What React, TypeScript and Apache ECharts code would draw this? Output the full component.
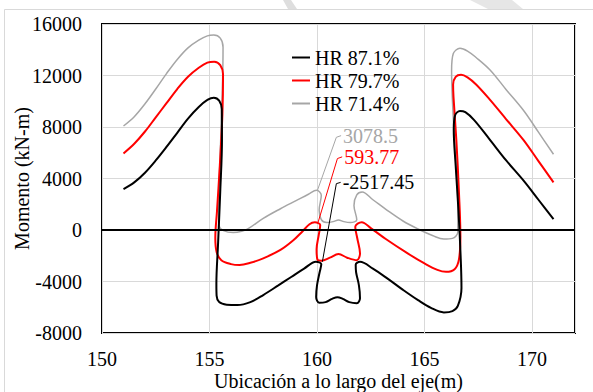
import React, { useEffect, useRef } from 'react';
import * as echarts from 'echarts';

const SERIES_NAMES = ['HR 87.1%', 'HR 79.7%', 'HR 71.4%'];
const SERIES_COLORS = ['#000000', '#ff0000', '#a6a6a6'];

const HR871: [number, number][] = [
  [151.0, 3180], [151.5, 3700], [152.0, 4450], [152.5, 5400], [153.0, 6450], [153.5, 7550],
  [154.0, 8650], [154.5, 9550], [154.9, 10100], [155.2, 10280], [155.45, 10050], [155.57, 9400],
  [155.58, 7000], [155.5, 3000], [155.4, -1000], [155.32, -4200], [155.33, -5100], [155.45, -5600],
  [155.8, -5800], [156.3, -5830], [156.9, -5600], [157.5, -5050], [158.2, -4300], [158.8, -3650],
  [159.4, -3000], [159.95, -2470], [160.2, -2650], [160.12, -3300], [160.0, -4300], [159.96, -5200],
  [160.1, -5650], [160.4, -5600], [160.7, -5350], [160.95, -5220], [161.2, -5350], [161.5, -5600],
  [161.85, -5680], [162.0, -5300], [161.95, -4300], [161.82, -3300], [161.8, -2700], [162.0, -2470],
  [162.6, -3000], [163.3, -3800], [164.0, -4650], [164.7, -5450], [165.3, -6050], [165.9, -6400],
  [166.3, -6300], [166.55, -5900], [166.72, -4500], [166.68, -2000], [166.58, 1500], [166.45, 5000],
  [166.36, 7800], [166.42, 8900], [166.65, 9250], [166.9, 9150], [167.3, 8550], [168.0, 7100],
  [168.8, 5400], [169.6, 3850], [170.3, 2350], [171.0, 850],
];

const HR797: [number, number][] = [
  [151.0, 5950], [151.5, 6700], [152.0, 7650], [152.5, 8750], [153.0, 9850], [153.5, 10950],
  [154.0, 11900], [154.5, 12600], [154.9, 13000], [155.22, 13070], [155.5, 12800], [155.63, 12100],
  [155.6, 9000], [155.48, 5000], [155.35, 1500], [155.27, -600], [155.33, -1700], [155.55, -2350],
  [156.0, -2650], [156.4, -2720], [156.9, -2550], [157.5, -2200], [158.3, -1550], [158.9, -800],
  [159.3, -150], [159.65, 450], [159.9, 594], [160.15, 380], [160.08, -400], [159.98, -1500],
  [160.02, -2300], [160.2, -2380], [160.6, -2150], [161.0, -1870], [161.4, -2150], [161.85, -2350],
  [162.0, -1800], [161.88, -700], [161.78, 250], [162.08, 600], [162.5, 150], [163.2, -700],
  [164.2, -1800], [165.0, -2600], [165.6, -3100], [166.0, -3250], [166.4, -3050], [166.6, -2300],
  [166.67, -500], [166.6, 3000], [166.48, 7000], [166.35, 10300], [166.33, 11300], [166.45, 11900],
  [166.7, 12050], [167.0, 11850], [167.4, 11300], [168.0, 10200], [168.8, 8600], [169.6, 7000],
  [170.3, 5350], [171.0, 3700],
];

const HR714: [number, number][] = [
  [151.0, 8080], [151.5, 8800], [152.0, 9800], [152.5, 10950], [153.0, 12150], [153.5, 13250],
  [154.0, 14150], [154.5, 14750], [154.9, 15080], [155.2, 15140], [155.5, 14900], [155.63, 14200],
  [155.6, 11000], [155.5, 6000], [155.42, 1500], [155.45, 300], [155.65, -50], [156.1, -200],
  [156.5, -100], [156.8, 100], [157.5, 900], [158.3, 1650], [159.05, 2300], [159.6, 2780],
  [159.98, 3078], [160.2, 2700], [160.1, 1550], [160.2, 800], [160.45, 580], [160.75, 650],
  [161.0, 780], [161.25, 650], [161.55, 580], [161.85, 800], [161.72, 1900], [161.85, 2720],
  [162.1, 2950], [162.6, 2350], [163.25, 1550], [164.0, 700], [164.7, 80], [165.4, -450],
  [165.9, -700], [166.3, -650], [166.55, -150], [166.55, 2000], [166.43, 6000], [166.3, 10000],
  [166.26, 12400], [166.34, 13700], [166.65, 14110], [167.0, 13900], [167.4, 13400], [168.05, 12430],
  [168.8, 10900], [169.6, 9300], [170.3, 7600], [171.0, 5880],
];

const CALLOUT_TEXTS = ['3078.5', '593.77', '-2517.45'];
const CALLOUT_COLORS = ['#a6a6a6', '#ff0000', '#000000'];
const CALLOUT_LINES: [number, number][][] = [
  [[160.02, 3078], [160.9, 7200], [161.12, 7330]],
  [[160.05, 594], [160.95, 5550], [161.17, 5680]],
  [[160.25, -2470], [160.9, 3600], [161.1, 3700]],
];

const X_TICKS = { min: 150, max: 172, interval: 5 };
const Y_TICKS = { min: -8000, max: 16000, interval: 4000 };

const FONT = 'Liberation Serif';

export default function App() {
  const ref = useRef<HTMLDivElement>(null);
  useEffect(() => {
    const chart = echarts.init(ref.current!, null, { renderer: 'svg' });
    const mainData = [HR871, HR797, HR714];
    const mainSeries: any[] = mainData.map((d, i) => ({
      name: SERIES_NAMES[i],
      type: 'line',
      data: d,
      smooth: 0.35,
      symbol: 'none',
      z: 5 - i,
      lineStyle: { color: SERIES_COLORS[i], width: i === 2 ? 1.5 : 2 },
      itemStyle: { color: SERIES_COLORS[i] },
      ...(i === 0
        ? {
            markLine: {
              silent: true,
              symbol: ['none', 'none'],
              label: { show: false },
              lineStyle: { color: '#000', width: 2, type: 'solid' },
              data: [{ yAxis: 0 }],
            },
          }
        : {}),
    }));
    const calloutSeries: any[] = CALLOUT_LINES.map((d, i) => ({
      name: 'callout' + i,
      type: 'line',
      data: d,
      symbol: 'none',
      silent: true,
      z: 6,
      lineStyle: { color: CALLOUT_COLORS[i], width: 1 },
      endLabel: {
        show: true,
        formatter: () => '{t|' + CALLOUT_TEXTS[i] + '}',
        distance: 2,
        rich: { t: { color: CALLOUT_COLORS[i], fontSize: 20, fontFamily: FONT } },
      },
    }));
    const tickRich = { t: { fontSize: 20, fontFamily: FONT, color: '#000' } };
    chart.setOption({
      animation: false,
      backgroundColor: '#fff',
      textStyle: { fontFamily: FONT },
      graphic: [
        {
          type: 'rect',
          shape: { x: 4.5, y: 9.5, width: 620, height: 420 },
          style: { fill: 'none', stroke: '#d9d9d9', lineWidth: 1 },
          silent: true,
        },
        {
          type: 'polygon',
          shape: { points: [[283, 0], [291, 0], [297, 9], [288, 9]] },
          style: { fill: '#dedede' },
          silent: true,
        },
        {
          type: 'polygon',
          shape: { points: [[470, 0], [512, 0], [523, 9], [488, 9]] },
          style: { fill: '#e6e6e6' },
          silent: true,
        },
      ],
      grid: {
        left: 102,
        right: 18,
        top: 24,
        bottom: 59,
        containLabel: false,
        outerBoundsMode: 'none',
        show: true,
        borderColor: '#000',
        borderWidth: 2,
        backgroundColor: 'transparent',
      },
      legend: {
        orient: 'vertical',
        left: 287,
        top: 41,
        itemWidth: 18,
        itemHeight: 2,
        itemGap: 0,
        icon: 'rect',
        data: SERIES_NAMES,
        textStyle: { fontSize: 20, fontFamily: FONT, color: '#000', lineHeight: 23 },
      },
      xAxis: {
        type: 'value',
        min: X_TICKS.min,
        max: X_TICKS.max,
        interval: X_TICKS.interval,
        name: 'Ubicación a lo largo del eje(m)',
        nameLocation: 'middle',
        nameGap: 38,
        nameMoveOverlap: false,
        nameTextStyle: { fontSize: 20, fontFamily: FONT, color: '#000', lineHeight: 20 },
        axisLine: { show: false, onZero: false },
        axisTick: { show: false },
        axisLabel: {
          margin: 16,
          showMaxLabel: false,
          fontFamily: FONT,
          fontSize: 20,
          color: '#000',
          formatter: (v: number) => '{t|' + String(v) + '}',
          rich: tickRich,
        },
        splitLine: { show: true, lineStyle: { color: '#d9d9d9', width: 1 } },
      },
      yAxis: {
        type: 'value',
        min: Y_TICKS.min,
        max: Y_TICKS.max,
        interval: Y_TICKS.interval,
        name: 'Momento (kN-m)',
        nameLocation: 'middle',
        nameGap: 70,
        nameRotate: 90,
        nameMoveOverlap: false,
        nameTextStyle: { fontSize: 20, fontFamily: FONT, color: '#000' },
        axisLine: { show: false },
        axisTick: { show: false },
        axisLabel: {
          margin: 20,
          fontFamily: FONT,
          fontSize: 20,
          color: '#000',
          formatter: (v: number) => '{t|' + String(v) + '}',
          rich: tickRich,
        },
        splitLine: { show: true, lineStyle: { color: '#d9d9d9', width: 1 } },
      },
      series: [...mainSeries, ...calloutSeries],
    });
    return () => chart.dispose();
  }, []);
  return (
    <div
      ref={ref}
      style={{ position: 'fixed', left: 0, top: 0, width: 593, height: 392, background: '#fff' }}
    />
  );
}
